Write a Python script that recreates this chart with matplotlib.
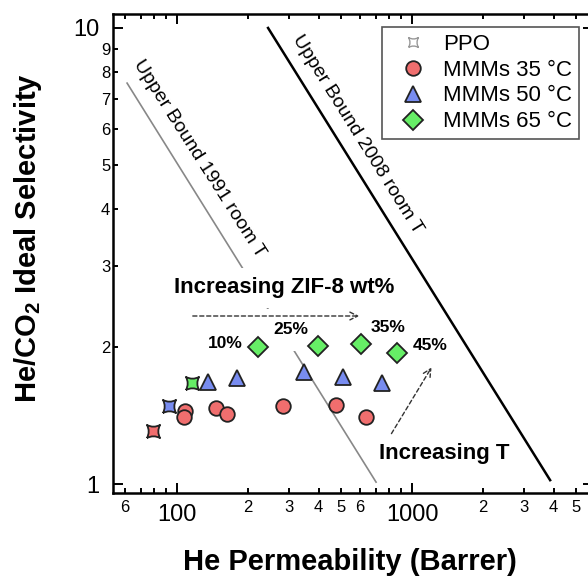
import numpy as np
import matplotlib
matplotlib.use("Agg")
import matplotlib.pyplot as plt
from matplotlib.path import Path
from matplotlib.lines import Line2D
from matplotlib.ticker import FixedLocator, FuncFormatter

plt.rcParams['font.family'] = ['Liberation Sans', 'DejaVu Sans']
plt.rcParams['mathtext.fontset'] = 'custom'
plt.rcParams['mathtext.rm'] = 'Liberation Sans'
plt.rcParams['mathtext.bf'] = 'Liberation Sans:bold'

# --------------------------------------------------
# DATA (He permeability in Barrer, He/CO2 selectivity)
# --------------------------------------------------

ppo_perm = [79.0, 92.5, 115.8]
ppo_sel = [1.31, 1.48, 1.665]
ppo_colors = ['#f06e6e', '#788cf0', '#66ee66']

mmm35_perm = [108, 107, 146.5, 163, 283, 475, 637]
mmm35_sel = [1.446, 1.403, 1.468, 1.424, 1.483, 1.490, 1.403]

mmm50_perm = [135.5, 180, 347, 509, 745]
mmm50_sel = [1.674, 1.708, 1.760, 1.717, 1.665]

mmm65_perm = [221, 398, 607, 863]
mmm65_sel = [1.998, 2.007, 2.028, 1.938]

loading_labels = ['10%', '25%', '35%', '45%']

# upper bound lines (end points)
ub1991_perm = [61.3, 703]
ub1991_sel = [7.57, 1.01]
ub2008_perm = [244, 3870]
ub2008_sel = [10.0, 1.02]

# --------------------------------------------------
# MARKER FOR PPO (concave square)
# --------------------------------------------------

verts = [(-1, -1), (0, -0.45), (1, -1), (0.45, 0), (1, 1),
         (0, 0.45), (-1, 1), (-0.45, 0), (-1, -1)]
codes = [Path.MOVETO] + [Path.CURVE3] * 8
ppo_marker = Path(verts, codes)

# --------------------------------------------------
# FIGURE
# --------------------------------------------------

fig = plt.figure(figsize=(5.88, 5.79), dpi=100)
ax = fig.add_axes([113 / 588, 86 / 579, 480 / 588, 479 / 579])

ax.set_xscale('log')
ax.set_yscale('log')
ax.set_xlim(53.4, 5890)
ax.set_ylim(0.956, 10.73)

ax.plot(ub1991_perm, ub1991_sel, color='#888888', lw=1.2, zorder=1)
ax.plot(ub2008_perm, ub2008_sel, color='black', lw=1.8, zorder=1)

for p, s, c in zip(ppo_perm, ppo_sel, ppo_colors):
    ax.plot(p, s, marker=ppo_marker, ms=9.5, mfc=c, mec='#222222', mew=1.3,
            ls='none', zorder=5)

ax.plot(mmm35_perm, mmm35_sel, 'o', ms=10.5, mfc='#f06e6e', mec='#222222',
        mew=1.3, zorder=5)
ax.plot(mmm50_perm, mmm50_sel, '^', ms=12, mfc='#788cf0', mec='#222222',
        mew=1.3, zorder=5)
ax.plot(mmm65_perm, mmm65_sel, 'D', ms=10, mfc='#66ee66', mec='#222222',
        mew=1.3, zorder=5)

# --------------------------------------------------
# TEXTS AND ARROWS
# --------------------------------------------------

def px(x, y):
    # pixel position in the picture -> axes fraction
    return ((x - 113) / 480, (493 - y) / 479)

ax.text(*px(199, 159), 'Upper Bound 1991 room T', transform=ax.transAxes,
        rotation=-57.5, rotation_mode='anchor', ha='center', va='center',
        fontsize=14, zorder=2)
ax.text(*px(357, 134), 'Upper Bound 2008 room T', transform=ax.transAxes,
        rotation=-58, rotation_mode='anchor', ha='center', va='center',
        fontsize=14, zorder=2)

ax.text(*px(284, 288), 'Increasing ZIF-8 wt%', transform=ax.transAxes,
        ha='center', va='center', fontsize=16, fontweight='bold',
        bbox=dict(facecolor='white', edgecolor='none', pad=7), zorder=2)
ax.text(*px(444, 453), 'Increasing T', transform=ax.transAxes,
        ha='center', va='center', fontsize=16, fontweight='bold', zorder=2)

label_pos = [(225, 343), (291, 330), (388, 327), (430, 346)]
label_pad = [2, 10, 1, 1]
for lab, (x, y), pd in zip(loading_labels, label_pos, label_pad):
    ax.text(*px(x, y), lab, transform=ax.transAxes, ha='center', va='center',
            fontsize=12.5, fontweight='bold',
            bbox=dict(facecolor='white', edgecolor='none', pad=pd), zorder=2)

arrow = dict(arrowstyle='->', linestyle=(0, (3, 2)), color='#333333',
             lw=1.0, mutation_scale=14)
ax.annotate('', xy=px(362, 316), xytext=px(190, 316),
            xycoords='axes fraction', textcoords='axes fraction',
            arrowprops=arrow, zorder=3)
ax.annotate('', xy=px(433, 365), xytext=px(390, 436),
            xycoords='axes fraction', textcoords='axes fraction',
            arrowprops=arrow, zorder=3)

# --------------------------------------------------
# AXES STYLE
# --------------------------------------------------

for sp in ax.spines.values():
    sp.set_linewidth(1.8)

ax.xaxis.set_major_locator(FixedLocator([100, 1000]))
ax.xaxis.set_minor_locator(FixedLocator(
    [m * d for d in (10, 100, 1000) for m in range(2, 10)]))
ax.yaxis.set_major_locator(FixedLocator([1, 10]))
ax.yaxis.set_minor_locator(FixedLocator([m for m in range(2, 10)]))

ax.xaxis.set_major_formatter(FuncFormatter(lambda v, p: '%d' % v))
ax.yaxis.set_major_formatter(FuncFormatter(lambda v, p: '%d' % v))

def minor_x(v, p):
    m = int(round(v / 10 ** np.floor(np.log10(v) + 1e-9)))
    return str(m) if 2 <= m <= 6 else ''

def minor_y(v, p):
    return str(int(round(v)))

ax.xaxis.set_minor_formatter(FuncFormatter(minor_x))
ax.yaxis.set_minor_formatter(FuncFormatter(minor_y))

ax.tick_params(which='both', direction='in', top=True, right=True,
               width=1.4, colors='black')
ax.tick_params(which='major', length=7, labelsize=17)
ax.tick_params(which='minor', length=3.5, labelsize=12)
ax.tick_params(axis='x', which='major', pad=8)
ax.tick_params(axis='x', which='minor', pad=5)
ax.tick_params(axis='y', which='major', pad=10)
ax.tick_params(axis='y', which='minor', pad=2)

ax.set_xlabel('He Permeability (Barrer)', fontsize=21, fontweight='bold')
ax.set_ylabel(r'He/CO$_\mathbf{2}$ Ideal Selectivity', fontsize=21,
              fontweight='bold')
ax.xaxis.set_label_coords(237 / 480, -55 / 479)
ax.yaxis.set_label_coords(-69 / 480, 255 / 479)

# --------------------------------------------------
# LEGEND
# --------------------------------------------------

handles = [
    Line2D([], [], ls='none', marker=ppo_marker, ms=7, mfc='white',
           mec='#999999', mew=1.0),
    Line2D([], [], ls='none', marker='o', ms=10.5, mfc='#f06e6e',
           mec='#222222', mew=1.3),
    Line2D([], [], ls='none', marker='^', ms=12, mfc='#788cf0',
           mec='#222222', mew=1.3),
    Line2D([], [], ls='none', marker='D', ms=10, mfc='#66ee66',
           mec='#222222', mew=1.3),
]
labels = ['PPO', 'MMMs 35 °C', 'MMMs 50 °C', 'MMMs 65 °C']
leg = ax.legend(handles, labels, loc='upper left',
                bbox_to_anchor=(382 / 588, 1 - 27 / 579),
                bbox_transform=fig.transFigure, fontsize=16, fancybox=False,
                edgecolor='#555555', framealpha=1, borderpad=0.3,
                labelspacing=0.22, handletextpad=0.24, handlelength=2.2,
                borderaxespad=0)
leg.get_frame().set_linewidth(1.2)

plt.savefig('out.png', dpi=100)
